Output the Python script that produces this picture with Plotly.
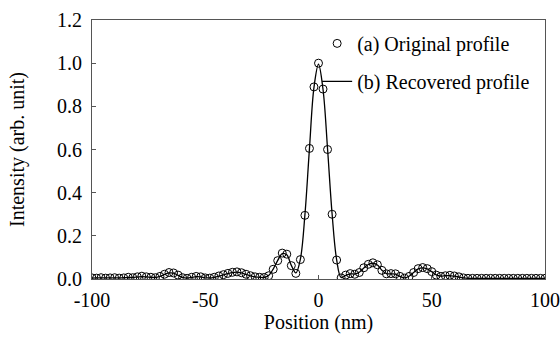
import plotly.graph_objects as go

positions = list(range(-100, 101, 2))

original = [
    0.005, 0.004, 0.006, 0.004, 0.005, 0.006, 0.004, 0.005, 0.008, 0.006,   # -100..-82
    0.010, 0.013, 0.010, 0.008, 0.006, 0.012, 0.022, 0.030, 0.028, 0.018,   # -80..-62
    0.006, 0.003, 0.008, 0.012, 0.010, 0.005, 0.004, 0.008, 0.014, 0.020,   # -60..-42
    0.026, 0.031, 0.033, 0.029, 0.022, 0.015, 0.010, 0.008, 0.007, 0.015,   # -40..-22
    0.045, 0.085, 0.120, 0.115, 0.062, 0.026, 0.090, 0.295, 0.605, 0.890,   # -20..-2
    1.000,                                                                  # 0
    0.880, 0.600, 0.300, 0.088, 0.005, 0.018, 0.025, 0.022, 0.030, 0.052,   # 2..20
    0.068, 0.075, 0.066, 0.040, 0.024, 0.025, 0.024, 0.012, 0.004, 0.012,   # 22..40
    0.030, 0.048, 0.053, 0.048, 0.034, 0.018, 0.012, 0.015, 0.017, 0.014,   # 42..60
    0.010, 0.005, 0.003, 0.003, 0.003, 0.003, 0.003, 0.003, 0.003, 0.003,   # 62..80
    0.003, 0.003, 0.003, 0.003, 0.003, 0.003, 0.003, 0.003, 0.003, 0.003,   # 82..100
]

recovered = [
    0.004, 0.005, 0.005, 0.005, 0.005, 0.005, 0.005, 0.006, 0.007, 0.007,
    0.009, 0.011, 0.010, 0.008, 0.007, 0.012, 0.021, 0.028, 0.027, 0.017,
    0.007, 0.004, 0.007, 0.011, 0.010, 0.006, 0.005, 0.008, 0.013, 0.019,
    0.025, 0.030, 0.032, 0.028, 0.021, 0.015, 0.010, 0.008, 0.007, 0.016,
    0.046, 0.086, 0.118, 0.112, 0.063, 0.028, 0.092, 0.297, 0.603, 0.888,
    0.995,
    0.878, 0.602, 0.302, 0.090, 0.007, 0.017, 0.024, 0.023, 0.031, 0.051,
    0.067, 0.073, 0.065, 0.041, 0.025, 0.024, 0.023, 0.012, 0.005, 0.013,
    0.030, 0.047, 0.052, 0.047, 0.034, 0.019, 0.013, 0.015, 0.016, 0.013,
    0.009, 0.005, 0.003, 0.003, 0.003, 0.003, 0.003, 0.003, 0.003, 0.003,
    0.003, 0.003, 0.003, 0.003, 0.003, 0.003, 0.003, 0.003, 0.003, 0.003,
]

x_ticks = [-100, -50, 0, 50, 100]
y_ticks = [0.0, 0.2, 0.4, 0.6, 0.8, 1.0, 1.2]

FONT = "Liberation Serif, Times New Roman, serif"

fig = go.Figure()
fig.add_trace(go.Scatter(
    x=positions, y=original, mode="markers", name="(a) Original profile",
    legendgroup="a",
    marker=dict(symbol="circle-open", size=8, color="black", line=dict(width=1)),
))
fig.add_trace(go.Scatter(
    x=positions, y=recovered, mode="lines", name="(b) Recovered profile",
    legendgroup="b",
    line=dict(color="black", width=1.3, shape="spline"),
))

fig.update_layout(
    width=560, height=339,
    margin=dict(l=92, r=15, t=20, b=60),
    paper_bgcolor="white", plot_bgcolor="white",
    font=dict(family=FONT, size=20, color="black"),
    showlegend=True,
    legend=dict(x=0.497, y=0.985, xanchor="left", yanchor="top",
                bgcolor="rgba(0,0,0,0)", font=dict(size=20),
                tracegroupgap=9, itemwidth=30),
)
fig.update_xaxes(
    range=[-100, 100], tickvals=x_ticks, ticktext=[str(v) for v in x_ticks],
    showgrid=False, zeroline=False, showline=True, linecolor="#555", linewidth=1,
    mirror=True, ticks="inside", ticklen=4, tickcolor="#555", automargin=False,
    ticklabelstandoff=3,
    title=dict(text="Position (nm)", standoff=2, font=dict(size=20)),
    tickfont=dict(size=20),
)
fig.update_yaxes(
    range=[0, 1.2], tickvals=y_ticks, ticktext=[f"{v:.1f}" for v in y_ticks],
    showgrid=False, zeroline=False, showline=True, linecolor="#555", linewidth=1,
    mirror=True, ticks="inside", ticklen=4, tickcolor="#555", automargin=False,
    ticklabelstandoff=5,
    title=dict(text="Intensity (arb. unit)", standoff=27, font=dict(size=20)),
    tickfont=dict(size=20),
)

# remove the browser's default 8px body margin so the figure fills the window
fig.write_html("out.html", config={"displayModeBar": False},
               post_script="document.body.style.margin='0';")
